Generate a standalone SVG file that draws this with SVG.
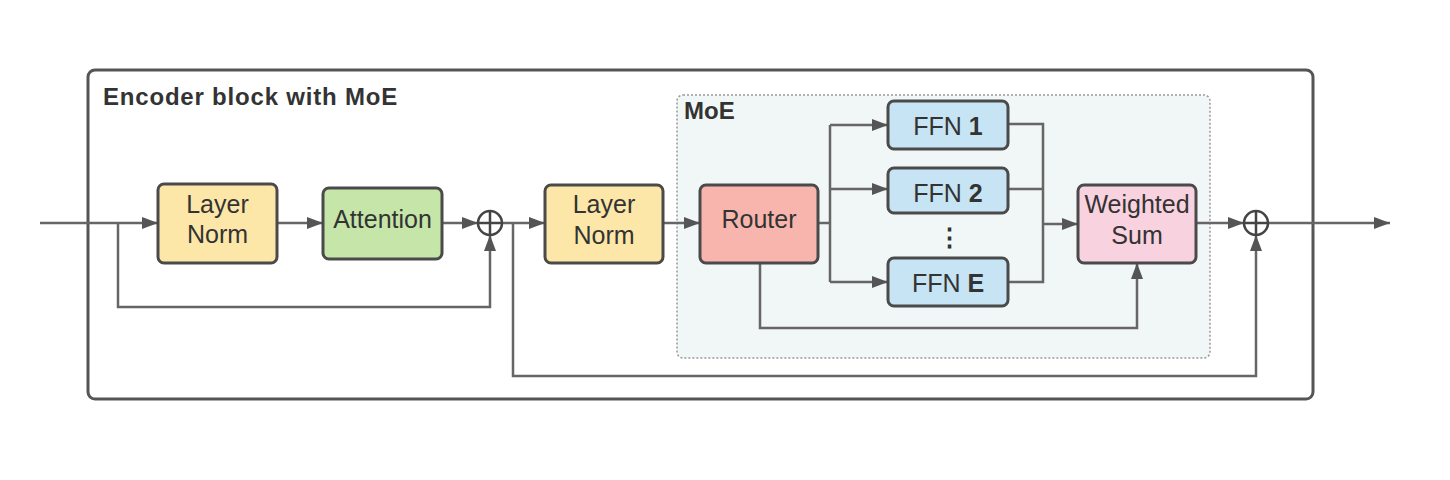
<svg xmlns="http://www.w3.org/2000/svg" width="1450" height="480" viewBox="0 0 1450 480">
<style>
.box{stroke:#4a4a4a;stroke-width:3}
.t{font-family:"Liberation Sans",Arial,sans-serif;font-size:25px;fill:#333;text-anchor:middle}
.b{font-family:"Liberation Sans",Arial,sans-serif;font-size:24px;font-weight:bold;fill:#333}
.c{fill:none;stroke:#666;stroke-width:2.5}
</style>
<defs>
<marker id="ah" viewBox="0 0 16 12" refX="16" refY="6" markerWidth="16" markerHeight="12" markerUnits="userSpaceOnUse" orient="auto">
<path d="M0,0 L16,6 L0,12 z" fill="#555"/>
</marker>
</defs>
<rect width="1450" height="480" fill="#fff"/>
<g id="encoder">
<rect x="88" y="70" width="1225" height="329" rx="7" fill="none" stroke="#555" stroke-width="3"/>
<text x="103" y="105" class="b" letter-spacing="0.8">Encoder block with MoE</text>
</g>
<g id="moe">
<rect x="677" y="95" width="533" height="263" rx="6" fill="#f1f7f6" stroke="#999" stroke-width="1.5" stroke-dasharray="2,2"/>
<text x="684" y="119" class="b">MoE</text>
</g>
<g id="connectors">
<path class="c" d="M40,223 H158" marker-end="url(#ah)"/>
<path class="c" d="M118,223 V307 H490 V235" marker-end="url(#ah)"/>
<path class="c" d="M277,223 H323" marker-end="url(#ah)"/>
<path class="c" d="M442,223 H478" marker-end="url(#ah)"/>
<path class="c" d="M502,223 H545" marker-end="url(#ah)"/>
<path class="c" d="M513,223 V376 H1256 V235" marker-end="url(#ah)"/>
<path class="c" d="M663,223 H700" marker-end="url(#ah)"/>
<path class="c" d="M818,223 H830"/>
<path class="c" d="M830,125 V282"/>
<path class="c" d="M830,125 H888" marker-end="url(#ah)"/>
<path class="c" d="M830,189 H888" marker-end="url(#ah)"/>
<path class="c" d="M830,282 H888" marker-end="url(#ah)"/>
<path class="c" d="M1008,124 H1043 V282 H1008"/>
<path class="c" d="M1008,189 H1043"/>
<path class="c" d="M1043,224 H1078" marker-end="url(#ah)"/>
<path class="c" d="M760,263 V328 H1137 V263" marker-end="url(#ah)"/>
<path class="c" d="M1196,223 H1244" marker-end="url(#ah)"/>
<path class="c" d="M1268,223 H1390" marker-end="url(#ah)"/>
</g>
<g id="layernorm1">
<rect class="box" x="158" y="184" width="119" height="79" rx="6" fill="#fde7a8"/>
<text class="t" x="217.5" y="213">Layer</text>
<text class="t" x="217.5" y="243">Norm</text>
</g>
<g id="attention">
<rect class="box" x="323" y="188" width="119" height="71" rx="6" fill="#c5e6a8"/>
<text class="t" x="382.5" y="228">Attention</text>
</g>
<g id="plus1">
<circle cx="490" cy="223" r="12" fill="#fff" stroke="#444" stroke-width="2.5"/>
<path d="M478,223 H502 M490,211 V235" stroke="#444" stroke-width="2.5"/>
</g>
<g id="layernorm2">
<rect class="box" x="545" y="185" width="118" height="78" rx="6" fill="#fde7a8"/>
<text class="t" x="604" y="213">Layer</text>
<text class="t" x="604" y="244">Norm</text>
</g>
<g id="router">
<rect class="box" x="700" y="185" width="118" height="78" rx="6" fill="#f8b5ad"/>
<text class="t" x="759" y="228">Router</text>
</g>
<g id="ffn1">
<rect class="box" x="888" y="101" width="120" height="48" rx="6" fill="#c6e4f4"/>
<text class="t" x="948" y="135">FFN <tspan font-weight="bold">1</tspan></text>
</g>
<g id="ffn2">
<rect class="box" x="888" y="168" width="120" height="45" rx="6" fill="#c6e4f4"/>
<text class="t" x="948" y="202">FFN <tspan font-weight="bold">2</tspan></text>
</g>
<g id="dots">
<text class="t" x="949" y="246" font-weight="bold">⋮</text>
</g>
<g id="ffnE">
<rect class="box" x="888" y="258" width="120" height="48" rx="6" fill="#c6e4f4"/>
<text class="t" x="948" y="292">FFN <tspan font-weight="bold">E</tspan></text>
</g>
<g id="weightedsum">
<rect class="box" x="1078" y="185" width="118" height="78" rx="6" fill="#f9d2df"/>
<text class="t" x="1137" y="213">Weighted</text>
<text class="t" x="1137" y="244">Sum</text>
</g>
<g id="plus2">
<circle cx="1256" cy="223" r="12" fill="#fff" stroke="#444" stroke-width="2.5"/>
<path d="M1244,223 H1268 M1256,211 V235" stroke="#444" stroke-width="2.5"/>
</g>
</svg>
